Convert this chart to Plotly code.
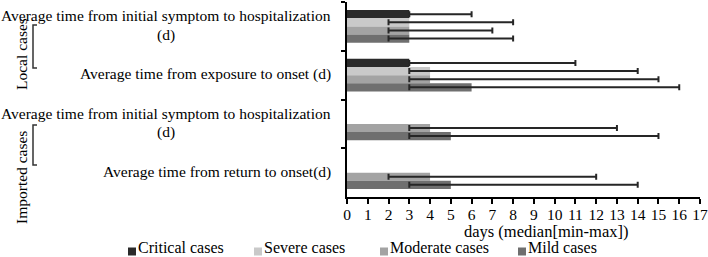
import plotly.graph_objects as go

# ---- data ----
groups = ["Local cases", "Local cases", "Imported cases", "Imported cases"]
measures = [
    "Average time from initial symptom to hospitalization<br>(d)",
    "Average time from exposure to onset (d)",
    "Average time from initial symptom to hospitalization<br>(d)",
    "Average time from return to onset(d)",
]
series_names = ["Critical cases", "Severe cases", "Moderate cases", "Mild cases"]
# median / min / max per series, one value per category (top to bottom)
critical_median = [3, 3, None, None]
critical_min = [3, 3, None, None]
critical_max = [6, 11, None, None]
severe_median = [3, 4, None, None]
severe_min = [2, 3, None, None]
severe_max = [8, 14, None, None]
moderate_median = [3, 4, 4, 4]
moderate_min = [2, 3, 3, 2]
moderate_max = [7, 15, 13, 12]
mild_median = [3, 6, 5, 5]
mild_min = [2, 3, 3, 3]
mild_max = [8, 16, 15, 14]
x_ticks = list(range(0, 18))

colors = ["#2a2a2a", "#c9c9c9", "#a3a3a3", "#6f6f6f"]
FONT = "Liberation Serif"

W, H = 708, 257
ml, mr, mt, mb = 347, 8, 2, 60
pw, ph = W - ml - mr, H - mt - mb

def px_x(px):
    return (px - ml) / pw

def px_y(py):
    return (H - mb - py) / ph

cat_keys = [f"{g} | {m}" for g, m in zip(groups, measures)]
series = [
    (critical_median, critical_min, critical_max),
    (severe_median, severe_min, severe_max),
    (moderate_median, moderate_min, moderate_max),
    (mild_median, mild_min, mild_max),
]

fig = go.Figure()
for name, col, (med, mn, mx) in zip(series_names, colors, series):
    plus = [None if v is None else b - v for v, b in zip(med, mx)]
    minus = [None if v is None else v - a for v, a in zip(med, mn)]
    fig.add_trace(go.Bar(
        name=name, y=cat_keys, x=med, orientation="h", showlegend=False,
        marker=dict(color=col, line=dict(width=0)),
        error_x=dict(type="data", symmetric=False, array=plus, arrayminus=minus,
                     color="#262626", thickness=2, width=3),
    ))

label_font = dict(family=FONT, size=15.5, color="black")
annotations = []
for key, m in zip(cat_keys, measures):
    lines = m.split("<br>")
    if len(lines) == 1:
        annotations.append(dict(x=0, xref="paper", xshift=-14, xanchor="right",
                                y=key, yref="y", yanchor="middle", yshift=1, text=lines[0],
                                showarrow=False, font=label_font))
    else:
        annotations.append(dict(x=0, xref="paper", xshift=-14, xanchor="right",
                                y=key, yref="y", yanchor="middle", yshift=10.5, text=lines[0],
                                showarrow=False, font=label_font))
        annotations.append(dict(x=0, xref="paper", xshift=-181, xanchor="center",
                                y=key, yref="y", yanchor="middle", yshift=-8.5, text=lines[1],
                                showarrow=False, font=label_font))
for label, cy in [("Local cases", 54), ("Imported cases", 178)]:
    annotations.append(dict(x=px_x(21), xref="paper", y=px_y(cy), yref="paper",
                            text=label, textangle=-90, showarrow=False,
                            xanchor="center", yanchor="middle", font=label_font))
annotations.append(dict(x=px_x(546), xref="paper", y=px_y(231), yref="paper",
                        text="days (median[min-max])", showarrow=False,
                        xanchor="center", yanchor="middle", borderpad=0,
                        font=dict(family=FONT, size=16.5, color="black")))

shapes = []
for top, bot in [(25, 68), (125, 165)]:
    x0, x1 = px_x(33), px_x(37)
    y0, y1 = px_y(top), px_y(bot)
    shapes.append(dict(type="path", xref="paper", yref="paper",
                       path=f"M{x1},{y0} L{x0},{y0} L{x0},{y1} L{x1},{y1}",
                       line=dict(color="#333333", width=1.5)))

# legend (square swatch + series name) at the bottom
legend_text_x = [138, 264, 390, 528]
for name, col, tx in zip(series_names, colors, legend_text_x):
    shapes.append(dict(type="rect", xref="paper", yref="paper",
                       x0=px_x(tx - 10), x1=px_x(tx - 2), y0=px_y(255.5), y1=px_y(247.5),
                       fillcolor=col, line=dict(width=0)))
    annotations.append(dict(x=px_x(tx - 1), xref="paper", y=px_y(257), yref="paper",
                            xanchor="left", yanchor="bottom", text=name, showarrow=False,
                            borderpad=0, font=dict(family=FONT, size=16, color="black")))

fig.update_layout(
    width=W, height=H, showlegend=False,
    margin=dict(l=ml, r=mr, t=mt, b=mb, autoexpand=False),
    paper_bgcolor="white", plot_bgcolor="white",
    barmode="group", bargap=0.33, bargroupgap=0,
    font=dict(family=FONT, size=15.5, color="black"),
    xaxis=dict(range=[0, 17], tickvals=x_ticks, ticks="outside", ticklen=5,
               tickwidth=1.5, tickcolor="black", showline=True, linecolor="black",
               linewidth=2, showgrid=False, zeroline=False, automargin=False,
               ticklabelstandoff=-3,
               tickfont=dict(family=FONT, size=15.5)),
    yaxis=dict(autorange="reversed", showticklabels=False, ticks="outside",
               tickson="boundaries", ticklen=4, tickwidth=1.5, tickcolor="black",
               showline=True, linecolor="black", linewidth=2, showgrid=False,
               automargin=False),
    annotations=annotations, shapes=shapes,
)

fig.write_html("out.html", config={"displayModeBar": False},
               post_script="document.body.style.margin='0';")
